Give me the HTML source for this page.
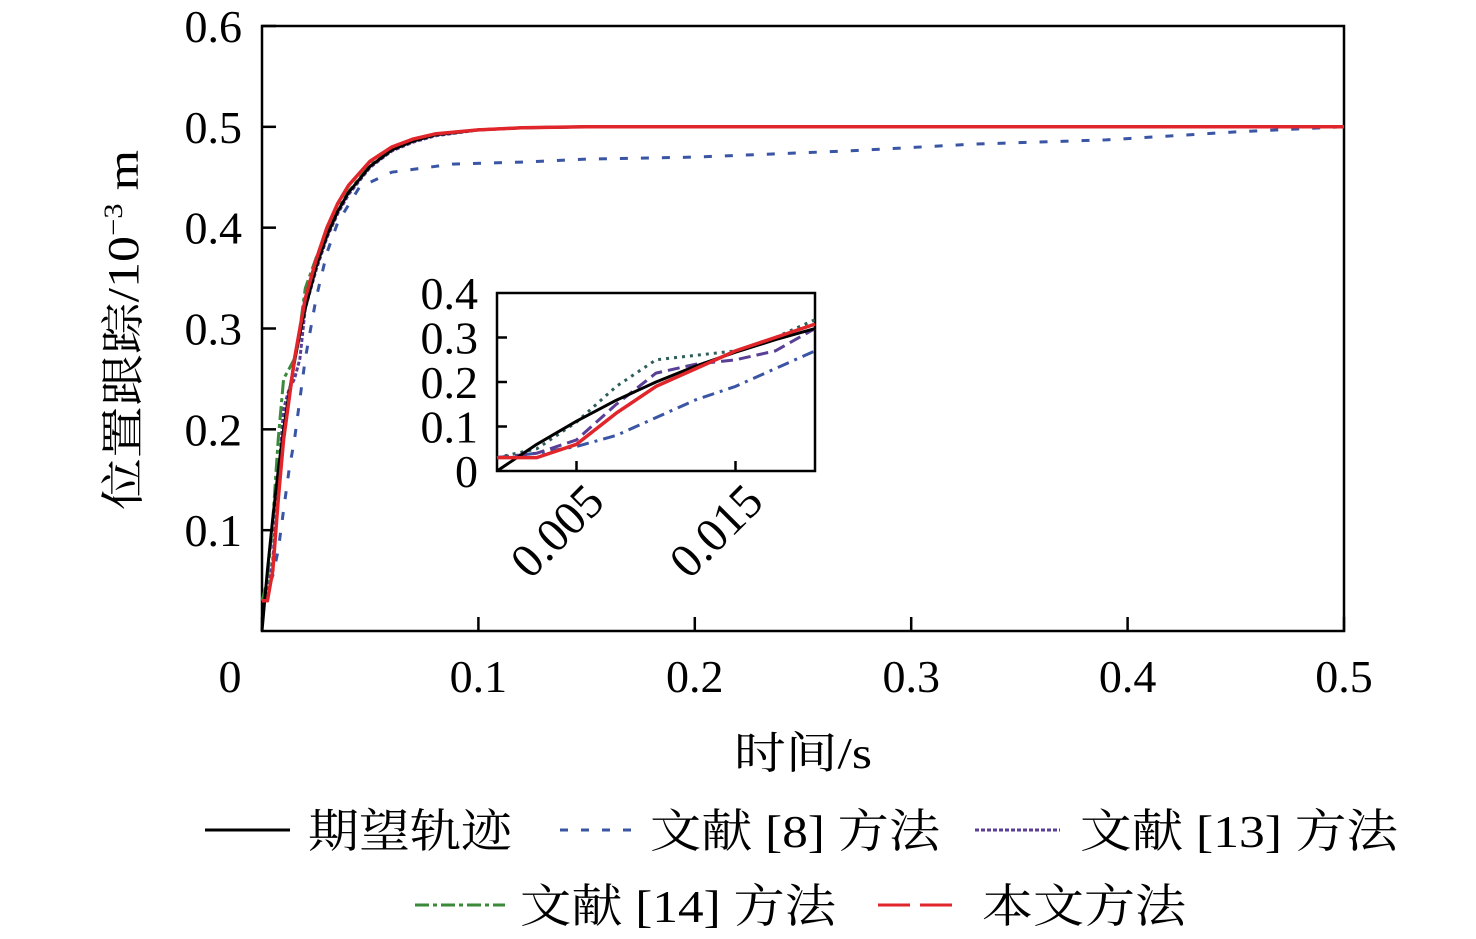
<!DOCTYPE html>
<html><head><meta charset="utf-8">
<style>
html,body{margin:0;padding:0;background:#fff;}
svg{display:block;font-family:"Liberation Serif","Times New Roman","Noto Serif CJK SC",serif;}
</style></head>
<body>
<svg id="chart" width="1476" height="939" viewBox="0 0 1476 939" xmlns="http://www.w3.org/2000/svg">
<g id="main-plot"></g>
<g id="inset-plot"></g>
<text transform="translate(138,330) rotate(-90)" text-anchor="middle" font-size="44" textLength="360" lengthAdjust="spacingAndGlyphs">位置跟踪/10<tspan dy="-16" font-size="26">−3</tspan><tspan dy="16"> m</tspan></text>
<text x="803" y="768" text-anchor="middle" font-size="44" textLength="138" lengthAdjust="spacingAndGlyphs">时间/s</text>
<g font-size="46">
  <g>
    <line x1="205" y1="830" x2="290" y2="830" stroke="#000" stroke-width="3"/>
    <text x="308" y="847" textLength="204" lengthAdjust="spacingAndGlyphs">期望轨迹</text></g>
  <g>
    <line x1="560" y1="830" x2="632" y2="830" stroke="#3a55a4" stroke-width="3" stroke-dasharray="8,13"/>
    <text x="650" y="847" textLength="290" lengthAdjust="spacingAndGlyphs">文献 [8] 方法</text></g>
  <g>
    <line x1="975" y1="830" x2="1060" y2="830" stroke="#5a3f96" stroke-width="3" stroke-dasharray="4,2"/>
    <text x="1080" y="847" textLength="318" lengthAdjust="spacingAndGlyphs">文献 [13] 方法</text></g>
  <g>
    <line x1="415" y1="905" x2="505" y2="905" stroke="#3a8a3a" stroke-width="3" stroke-dasharray="14,4,4,4"/>
    <text x="520" y="922" textLength="316" lengthAdjust="spacingAndGlyphs">文献 [14] 方法</text></g>
  <g>
    <line x1="878" y1="905" x2="962" y2="905" stroke="#e0262b" stroke-width="3" stroke-dasharray="32,10"/>
    <text x="982" y="922" textLength="204" lengthAdjust="spacingAndGlyphs">本文方法</text></g>
</g>
</svg>
<script>
// ---- main chart data ----
const mainT = [0,0.0025,0.005,0.0075,0.01,0.0125,0.015,0.0175,0.02,0.025,0.03,0.035,0.04,0.05,0.06,0.07,0.08,0.1,0.12,0.15,0.2,0.5];
const desiredY = [0,0.060,0.112,0.159,0.200,0.236,0.267,0.295,0.320,0.361,0.392,0.416,0.435,0.461,0.477,0.486,0.492,0.497,0.499,0.500,0.500,0.500];
const proposedY = [0.03,0.03,0.06,0.13,0.19,0.23,0.27,0.30,0.33,0.368,0.400,0.424,0.442,0.466,0.480,0.488,0.493,0.497,0.499,0.500,0.500,0.500];
const ref13Y = [0.03,0.04,0.07,0.15,0.22,0.24,0.25,0.27,0.32,0.358,0.390,0.414,0.433,0.460,0.476,0.485,0.491,0.497,0.499,0.500,0.500,0.500];
const ref14Y = [0.03,0.05,0.11,0.19,0.25,0.26,0.27,0.30,0.34,0.37,0.396,0.418,0.436,0.462,0.478,0.487,0.492,0.497,0.499,0.500,0.500,0.500];
const ref8T = [0,0.0025,0.005,0.0075,0.01,0.0125,0.015,0.0175,0.02,0.025,0.03,0.035,0.045,0.06,0.088,0.12,0.15,0.2,0.27,0.33,0.39,0.45,0.5];
const ref8Y = [0.03,0.04,0.055,0.08,0.12,0.16,0.19,0.23,0.27,0.33,0.375,0.405,0.44,0.455,0.463,0.465,0.468,0.470,0.476,0.483,0.487,0.495,0.500];
const mainXTicks = [0,0.1,0.2,0.3,0.4,0.5];
const mainXLabels = ["0","0.1","0.2","0.3","0.4","0.5"];
const mainYTicks = [0.1,0.2,0.3,0.4,0.5,0.6];
const mainYLabels = ["0.1","0.2","0.3","0.4","0.5","0.6"];
const insetXTicks = [0.005,0.015];
const insetXLabels = ["0.005","0.015"];
const insetYTicks = [0,0.1,0.2,0.3,0.4];
const insetYLabels = ["0","0.1","0.2","0.3","0.4"];

const NS="http://www.w3.org/2000/svg";
function mk(tag,attrs,parent){const e=document.createElementNS(NS,tag);for(const k in attrs)e.setAttribute(k,attrs[k]);parent.appendChild(e);return e;}

const mx = v => 262 + v*(1344-262)/0.5;
const my = v => 631 - v*(631-26)/0.6;
const ix = v => 497 + v*(815-497)/0.02;
const iy = v => 471 - v*(471-293)/0.4;

function series(g,T,Y,xf,yf,xmax,color,dash,w,name){
  let pts=[];
  for(let i=0;i<T.length;i++){ if(T[i]<=xmax+1e-9) pts.push(xf(T[i]).toFixed(1)+","+yf(Y[i]).toFixed(1)); }
  const p=mk("polyline",{points:pts.join(" "),fill:"none",stroke:color,"stroke-width":w,"stroke-dasharray":dash,"stroke-linejoin":"round"},g);
  
  
}

const mg=document.getElementById("main-plot");
const fr=mk("rect",{x:262,y:26,width:1082,height:605,fill:"none",stroke:"#000","stroke-width":2.5},mg);


mainXTicks.forEach((v,i)=>{
  mk("line",{x1:mx(v),y1:631,x2:mx(v),y2:617,stroke:"#000","stroke-width":2.5},mg);
  const t=mk("text",{x:(i==0?mx(v)-32:mx(v)),y:692,"text-anchor":"middle","font-size":46},mg);
  t.textContent=mainXLabels[i];
  
  
});
mainYTicks.forEach((v,i)=>{
  mk("line",{x1:262,y1:my(v),x2:276,y2:my(v),stroke:"#000","stroke-width":2.5},mg);
  const t=mk("text",{x:242,y:my(v)+16,"text-anchor":"end","font-size":46},mg);
  t.textContent=mainYLabels[i];
  
  
});
series(mg,ref8T,ref8Y,mx,my,0.5,"#3a55a4","8,13",3,"ref8-line");
series(mg,mainT,ref13Y,mx,my,0.5,"#5a3f96","4,2",3,"ref13-line");
series(mg,mainT,ref14Y,mx,my,0.5,"#3a8a3a","14,4,4,4",3,"ref14-line");
series(mg,mainT,desiredY,mx,my,0.5,"#000","none",3,"desired-line");
series(mg,mainT,proposedY,mx,my,0.5,"#e0262b","none",3.5,"proposed-line");

const ig=document.getElementById("inset-plot");
const ib=mk("rect",{x:497,y:293,width:318,height:178,fill:"#fff",stroke:"#000","stroke-width":2.5},ig);


insetYTicks.forEach((v,i)=>{
  if(i>0&&i<4) mk("line",{x1:497,y1:iy(v),x2:507,y2:iy(v),stroke:"#000","stroke-width":2.5},ig);
  const t=mk("text",{x:478,y:iy(v)+16,"text-anchor":"end","font-size":46},ig);
  t.textContent=insetYLabels[i];
  
  
});
insetXTicks.forEach((v,i)=>{
  mk("line",{x1:ix(v),y1:471,x2:ix(v),y2:461,stroke:"#000","stroke-width":2.5},ig);
  const t=mk("text",{x:0,y:0,"text-anchor":"end","font-size":48,transform:"translate("+(ix(v)+30)+",504) rotate(-45)"},ig);
  t.textContent=insetXLabels[i];
  
  
});
series(ig,ref8T,ref8Y,ix,iy,0.02,"#3a55a4","12,6,3,6",3,"inset-ref8-line");
series(ig,mainT,ref13Y,ix,iy,0.02,"#5a3f96","12,6",3,"inset-ref13-line");
series(ig,mainT,ref14Y,ix,iy,0.02,"#2e5e5a","3,5",3,"inset-ref14-line");
series(ig,mainT,desiredY,ix,iy,0.02,"#000","none",3,"inset-desired-line");
series(ig,mainT,proposedY,ix,iy,0.02,"#e0262b","none",3.5,"inset-proposed-line");
</script>
</body></html>
